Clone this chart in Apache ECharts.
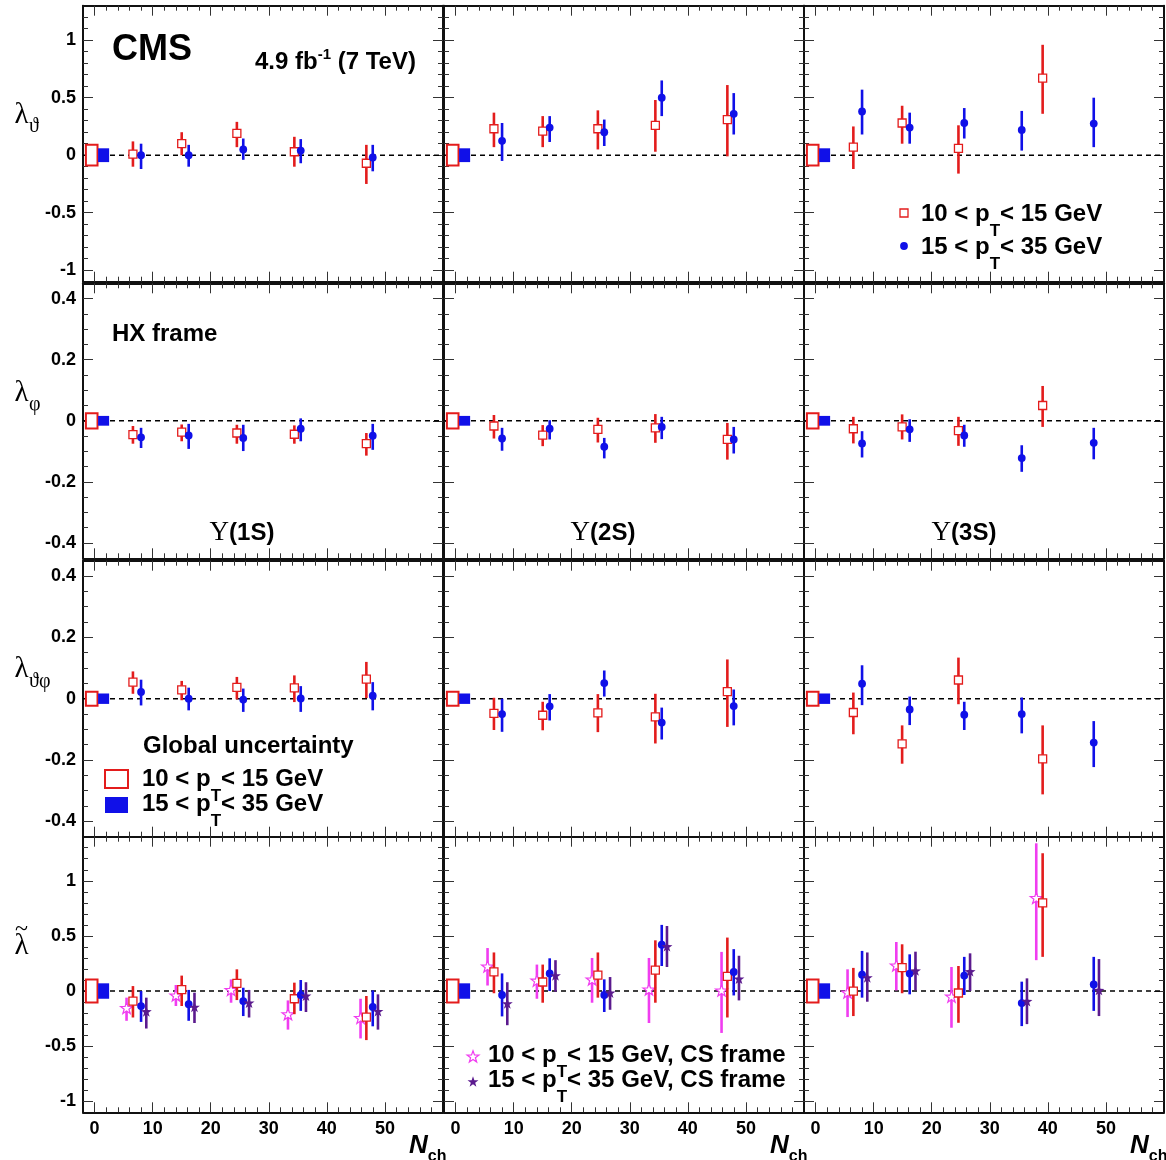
<!DOCTYPE html>
<html><head><meta charset="utf-8">
<script src="https://cdn.jsdelivr.net/npm/echarts@6/dist/echarts.min.js"></script>
<style>html,body{margin:0;padding:0;background:#fff}#c{width:1166px;height:1160px}</style>
</head><body><div id="c"></div>
<script>
// ---------------- DATA ----------------
// N_ch positions of the points (slightly offset per series, as in the figure)
const nchLow    = [6.6, 15.0, 24.5, 34.4, 46.8];   // 10<pT<15 GeV, HX
const nchHigh   = [8.0, 16.2, 25.6, 35.5, 47.9];   // 15<pT<35 GeV, HX
const nchLowCS  = [5.5, 14.0, 23.5, 33.3, 45.8];   // 10<pT<15 GeV, CS
const nchHighCS = [8.9, 17.2, 26.6, 36.4, 48.8];   // 15<pT<35 GeV, CS
const nchLow3S   = [6.5, 14.9, 24.6, 39.1];
const nchLowCS3S = [5.5, 13.9, 23.4, 38.0];

// tick labels
const xTicks = [0, 10, 20, 30, 40, 50];
const yTicksWide = [-1, -0.5, 0, 0.5, 1];
const yTicksNarrow = [-0.4, -0.2, 0, 0.2, 0.4];

// values: [central, low edge of error bar, high edge of error bar]
// lambda_theta
const lthLow1S  = [[0.01,-0.10,0.12],[0.10,0.00,0.20],[0.19,0.07,0.29],[0.03,-0.10,0.16],[-0.07,-0.25,0.09]];
const lthHigh1S = [[0.00,-0.12,0.10],[0.00,-0.10,0.09],[0.05,-0.04,0.145],[0.04,-0.07,0.14],[-0.02,-0.14,0.09]];
const lthLow2S  = [[0.23,0.07,0.37],[0.21,0.07,0.34],[0.23,0.05,0.39],[0.26,0.03,0.48],[0.31,-0.01,0.61]];
const lthHigh2S = [[0.125,-0.05,0.28],[0.24,0.115,0.34],[0.20,0.08,0.31],[0.50,0.34,0.65],[0.36,0.18,0.54]];
const lthLow3S  = [[0.07,-0.12,0.25],[0.28,0.10,0.43],[0.06,-0.16,0.26],[0.67,0.36,0.96]];
const lthHigh3S = [[0.38,0.18,0.57],[0.24,0.10,0.37],[0.28,0.145,0.41],[0.22,0.04,0.385],[0.275,0.07,0.50]];
// lambda_phi
const lphLow1S  = [[-0.045,-0.075,-0.017],[-0.037,-0.067,-0.012],[-0.040,-0.075,-0.013],[-0.044,-0.075,-0.015],[-0.075,-0.114,-0.040]];
const lphHigh1S = [[-0.054,-0.089,-0.023],[-0.048,-0.092,-0.010],[-0.056,-0.099,-0.013],[-0.026,-0.067,0.008],[-0.049,-0.095,-0.010]];
const lphLow2S  = [[-0.017,-0.058,0.019],[-0.047,-0.083,-0.014],[-0.028,-0.071,0.010],[-0.023,-0.072,0.022],[-0.061,-0.127,-0.007]];
const lphHigh2S = [[-0.058,-0.098,-0.023],[-0.026,-0.061,0.002],[-0.085,-0.123,-0.056],[-0.020,-0.060,0.013],[-0.061,-0.107,-0.020]];
const lphLow3S  = [[-0.026,-0.074,0.013],[-0.020,-0.061,0.021],[-0.032,-0.082,0.013],[0.050,-0.020,0.114]];
const lphHigh3S = [[-0.074,-0.120,-0.034],[-0.028,-0.069,0.005],[-0.048,-0.085,-0.013],[-0.122,-0.167,-0.080],[-0.072,-0.126,-0.023]];
// lambda_theta_phi
const ltpLow1S  = [[0.054,0.016,0.089],[0.029,-0.005,0.058],[0.037,-0.002,0.071],[0.035,-0.011,0.076],[0.064,0.002,0.120]];
const ltpHigh1S = [[0.022,-0.022,0.062],[0.000,-0.038,0.036],[-0.003,-0.043,0.033],[0.001,-0.043,0.041],[0.010,-0.038,0.054]];
const ltpLow2S  = [[-0.048,-0.102,0.003],[-0.054,-0.103,-0.010],[-0.046,-0.109,0.015],[-0.059,-0.146,0.016],[0.023,-0.092,0.128]];
const ltpHigh2S = [[-0.050,-0.108,0.000],[-0.025,-0.071,0.015],[0.051,0.007,0.092],[-0.078,-0.133,-0.029],[-0.024,-0.087,0.030]];
const ltpLow3S  = [[-0.045,-0.116,0.020],[-0.147,-0.212,-0.087],[0.061,-0.018,0.134],[-0.196,-0.312,-0.087]];
const ltpHigh3S = [[0.049,-0.021,0.109],[-0.035,-0.086,0.007],[-0.052,-0.102,-0.010],[-0.050,-0.113,0.004],[-0.143,-0.223,-0.073]];
// lambda tilde (HX and CS frames)
const ltiLow1S    = [[-0.091,-0.24,0.045],[0.012,-0.136,0.14],[0.07,-0.082,0.197],[-0.07,-0.21,0.076],[-0.236,-0.445,-0.045]];
const ltiHigh1S   = [[-0.136,-0.28,0.0],[-0.12,-0.27,0.01],[-0.091,-0.227,0.03],[-0.036,-0.18,0.1],[-0.145,-0.32,0.006]];
const ltiLowCS1S  = [[-0.158,-0.27,-0.06],[-0.045,-0.136,0.055],[0.006,-0.106,0.105],[-0.215,-0.35,-0.085],[-0.248,-0.43,-0.07]];
const ltiHighCS1S = [[-0.19,-0.34,-0.06],[-0.15,-0.29,-0.015],[-0.112,-0.24,0.01],[-0.048,-0.19,0.08],[-0.188,-0.35,-0.03]];
const ltiLow2S    = [[0.173,-0.02,0.35],[0.082,-0.106,0.24],[0.145,-0.06,0.35],[0.19,-0.106,0.46],[0.133,-0.24,0.485]];
const ltiHigh2S   = [[-0.036,-0.23,0.16],[0.16,0.0,0.297],[-0.036,-0.19,0.106],[0.42,0.227,0.6],[0.173,-0.04,0.38]];
const ltiLowCS2S  = [[0.218,0.05,0.39],[0.09,-0.07,0.24],[0.1,-0.106,0.30],[0.009,-0.29,0.30],[0.0,-0.38,0.355]];
const ltiHighCS2S = [[-0.118,-0.31,0.08],[0.136,-0.006,0.28],[-0.02,-0.17,0.127],[0.40,0.218,0.59],[0.106,-0.085,0.32]];
const ltiLow3S    = [[0.0,-0.227,0.21],[0.212,-0.02,0.424],[-0.018,-0.288,0.227],[0.80,0.31,1.25]];
const ltiHigh3S   = [[0.148,-0.06,0.364],[0.158,-0.03,0.333],[0.14,-0.036,0.31],[-0.109,-0.318,0.085],[0.06,-0.18,0.31]];
const ltiLowCS3S  = [[-0.018,-0.236,0.197],[0.227,0.006,0.445],[-0.055,-0.333,0.218],[0.84,0.28,1.34]];
const ltiHighCS3S = [[0.118,-0.097,0.35],[0.18,0.006,0.357],[0.173,0.0,0.342],[-0.097,-0.3,0.115],[0.003,-0.227,0.29]];

// global uncertainty (half height) per row
const globLow  = [0.09, 0.025, 0.023, 0.105];
const globHigh = [0.06, 0.016, 0.017, 0.07];

// ---------------- LAYOUT / STYLE ----------------
const FONT = '"Liberation Sans", Arial, sans-serif';
const SERIF = '"Liberation Serif", "Times New Roman", serif';
const COLS = [83, 444, 804], COLW = 360;
const ROWS = [{top:5.7,h:276},{top:283.3,h:275},{top:560.7,h:276},{top:836.7,h:275.6}];
const YR = [
  {min:-1.1, max:1.3, major:yTicksWide, step:0.1},
  {min:-0.45, max:0.45, major:yTicksNarrow, step:0.05},
  {min:-0.45, max:0.45, major:yTicksNarrow, step:0.05},
  {min:-1.1, max:1.4, major:yTicksWide, step:0.1}
];
const RED='#e31c1c', BLUE='#1010e8', MAG='#f03df0', PUR='#5b1a8e';
const STAR='M50,0 L61.8,33.8 L97.6,34.5 L69,56.2 L79.4,90.5 L50,70 L20.6,90.5 L31,56.2 L2.4,34.5 L38.2,33.8 Z';
function starPoints(cx, cy, size){
  const pts=[]; const ro=size/2, ri=ro*0.4;
  for(let i=0;i<10;i++){const a=-Math.PI/2+i*Math.PI/5; const rr=i%2?ri:ro; pts.push([cx+rr*Math.cos(a), cy+rr*Math.sin(a)]);}
  return pts;
}

function minorTicks(min, max, step, major){
  const out=[]; const n0=Math.ceil(min/step-1e-9), n1=Math.floor(max/step+1e-9);
  for(let i=n0;i<=n1;i++){const v=+(i*step).toFixed(4);
    if(v<=min+1e-9||v>=max-1e-9) continue;
    if(major.some(m=>Math.abs(m-v)<1e-6)) continue; out.push(v);}
  return out;
}
const xMinor = minorTicks(-2, 60, 2, xTicks);
const fmt = v => String(+(+v).toFixed(2));

function mkAxis(kind, gi, pos, min, max, ticks, len, showLine, labelVals){
  const a = {type:'value', gridIndex:gi, position:pos, min:min, max:max,
    axisLine:{show:showLine, onZero:false, lineStyle:{color:'#111', width:2}},
    axisTick:{show:true, inside:true, length:len, customValues:ticks, lineStyle:{color:'#333', width:1}},
    splitLine:{show:false}, minorTick:{show:false}, minorSplitLine:{show:false},
    axisLabel:{show:false}};
  if (labelVals) {
    a.axisLabel = {show:true, customValues:labelVals, formatter:fmt, fontFamily:FONT, fontWeight:'bold',
      fontSize:18, color:'#000', margin: kind==='x' ? 8 : 7};
  }
  return a;
}

const grids=[], xAxes=[], yAxes=[], series=[];
const spec = { low:{color:RED}, high:{color:BLUE}, lowCS:{color:MAG}, highCS:{color:PUR} };
function markerFor(kind, p){
  if (kind==='low') return {type:'rect', shape:{x:p[0]-4,y:p[1]-4,width:8,height:8}, style:{fill:'#fff',stroke:RED,lineWidth:1.3}};
  if (kind==='high') return {type:'circle', shape:{cx:p[0],cy:p[1],r:3.9}, style:{fill:BLUE}};
  if (kind==='lowCS') return {type:'polygon', shape:{points:starPoints(p[0],p[1],12.5)}, style:{fill:'#fff',stroke:MAG,lineWidth:1.2}};
  return {type:'polygon', shape:{points:starPoints(p[0],p[1],11.5)}, style:{fill:PUR}};
}

const panels = [
  [[['low',nchLow,lthLow1S],['high',nchHigh,lthHigh1S]],
   [['low',nchLow,lthLow2S],['high',nchHigh,lthHigh2S]],
   [['low',nchLow3S,lthLow3S],['high',nchHigh,lthHigh3S]]],
  [[['low',nchLow,lphLow1S],['high',nchHigh,lphHigh1S]],
   [['low',nchLow,lphLow2S],['high',nchHigh,lphHigh2S]],
   [['low',nchLow3S,lphLow3S],['high',nchHigh,lphHigh3S]]],
  [[['low',nchLow,ltpLow1S],['high',nchHigh,ltpHigh1S]],
   [['low',nchLow,ltpLow2S],['high',nchHigh,ltpHigh2S]],
   [['low',nchLow3S,ltpLow3S],['high',nchHigh,ltpHigh3S]]],
  [[['lowCS',nchLowCS,ltiLowCS1S],['low',nchLow,ltiLow1S],['high',nchHigh,ltiHigh1S],['highCS',nchHighCS,ltiHighCS1S]],
   [['lowCS',nchLowCS,ltiLowCS2S],['low',nchLow,ltiLow2S],['high',nchHigh,ltiHigh2S],['highCS',nchHighCS,ltiHighCS2S]],
   [['lowCS',nchLowCS3S,ltiLowCS3S],['low',nchLow3S,ltiLow3S],['high',nchHigh,ltiHigh3S],['highCS',nchHighCS,ltiHighCS3S]]]
];

for (let r=0;r<4;r++){
  const yr = YR[r]; const yMinor = minorTicks(yr.min, yr.max, yr.step, yr.major);
  for (let c=0;c<3;c++){
    const gi = r*3+c;
    grids.push({left:COLS[c], top:ROWS[r].top, width:COLW, height:ROWS[r].h, show:false});
    xAxes.push(mkAxis('x',gi,'bottom',-2,60,xTicks,10,true, r===3 ? xTicks : null));
    xAxes.push(mkAxis('x',gi,'bottom',-2,60,xMinor,5,false,null));
    xAxes.push(mkAxis('x',gi,'top',-2,60,xTicks,10,true,null));
    xAxes.push(mkAxis('x',gi,'top',-2,60,xMinor,5,false,null));
    yAxes.push(mkAxis('y',gi,'left',yr.min,yr.max,yr.major,10,true, c===0 ? yr.major : null));
    yAxes.push(mkAxis('y',gi,'left',yr.min,yr.max,yMinor,5,false,null));
    yAxes.push(mkAxis('y',gi,'right',yr.min,yr.max,yr.major,10,true,null));
    yAxes.push(mkAxis('y',gi,'right',yr.min,yr.max,yMinor,5,false,null));

    // zero line + global uncertainty boxes
    series.push({type:'custom', xAxisIndex:4*gi, yAxisIndex:4*gi, silent:true, z:2,
      data:[[0, globLow[r]],[1, globHigh[r]]],
      renderItem:function(params, api){
        const half = api.value(1);
        if (params.dataIndex===0){
          const a = api.coord([-2,0]), b = api.coord([60,0]);
          const p0 = api.coord([-1.5, half]), p1 = api.coord([0.5, -half]);
          return {type:'group', children:[
            {type:'line', shape:{x1:a[0],y1:a[1],x2:b[0],y2:b[1]}, style:{stroke:'#000',lineWidth:1.6,lineDash:[5,4]}},
            {type:'rect', shape:{x:p0[0],y:p0[1],width:p1[0]-p0[0],height:p1[1]-p0[1]}, style:{fill:'#fff',stroke:RED,lineWidth:2}}
          ]};
        }
        const p0 = api.coord([0.6, half]), p1 = api.coord([2.5, -half]);
        return {type:'rect', shape:{x:p0[0],y:p0[1],width:p1[0]-p0[0],height:p1[1]-p0[1]}, style:{fill:BLUE}};
      }});

    for (const [kind, xs, vals] of panels[r][c]){
      const data = vals.map((v,i)=>[xs[i], v[0], v[1], v[2]]);
      const col = spec[kind].color;
      series.push({type:'custom', xAxisIndex:4*gi, yAxisIndex:4*gi, silent:true, z:3,
        encode:{x:0, y:[1,2,3]}, data:data,
        renderItem:function(params, api){
          const x = api.value(0);
          const p = api.coord([x, api.value(1)]);
          const lo = api.coord([x, api.value(2)]), hi = api.coord([x, api.value(3)]);
          return {type:'group', children:[
            {type:'line', shape:{x1:p[0],y1:lo[1],x2:p[0],y2:hi[1]}, style:{stroke:col,lineWidth:2.6}},
            markerFor(kind, p)
          ]};
        }});
    }
  }
}

// ---------------- TEXT / LEGENDS ----------------
const B = (s, extra) => Object.assign({fontSize:s, fontWeight:'bold', fontFamily:FONT, fill:'#000'}, extra||{});
const subT = B(17, {padding:[34,0,0,0]});
function txt(x, y, text, rich, align){
  return {type:'text', x:x, y:y, silent:true, z:10,
    style:{text:text, rich:rich, textAlign:align||'left', textVerticalAlign:'middle'}};
}
const ptRich = {a:B(24), s:subT};
const graphics = [
  txt(112, 50, '{a|CMS}', {a:B(36)}),
  txt(255, 62, '{a|4.9 fb}{b|-1}{a| (7 TeV)}', {a:B(24), b:B(15,{padding:[0,0,14,0]})}),
  {type:'rect', shape:{x:900,y:209,width:8,height:8}, style:{fill:'#fff',stroke:RED,lineWidth:1.3}, z:10},
  txt(921, 214.5, '{a|10 < p}{s|T}{a|< 15 GeV}', ptRich),
  {type:'circle', shape:{cx:904,cy:246,r:3.9}, style:{fill:BLUE}, z:10},
  txt(921, 247, '{a|15 < p}{s|T}{a|< 35 GeV}', ptRich),
  txt(112, 334.5, '{a|HX frame}', {a:B(24)}),
  txt(242, 533, '{u|\u03A5}{a|(1S)}', {a:B(24), u:{fontSize:27, fontFamily:SERIF, fill:'#000'}}, 'center'),
  txt(603, 533, '{u|\u03A5}{a|(2S)}', {a:B(24), u:{fontSize:27, fontFamily:SERIF, fill:'#000'}}, 'center'),
  txt(964, 533, '{u|\u03A5}{a|(3S)}', {a:B(24), u:{fontSize:27, fontFamily:SERIF, fill:'#000'}}, 'center'),
  txt(143, 746.5, '{a|Global uncertainty}', {a:B(24)}),
  {type:'rect', shape:{x:105,y:770,width:23,height:18}, style:{fill:'#fff',stroke:RED,lineWidth:2}, z:10},
  txt(142, 779.5, '{a|10 < p}{s|T}{a|< 15 GeV}', ptRich),
  {type:'rect', shape:{x:105,y:797,width:23,height:16}, style:{fill:BLUE}, z:10},
  txt(142, 804.5, '{a|15 < p}{s|T}{a|< 35 GeV}', ptRich),
  {type:'polygon', shape:{points:starPoints(473,1057,12.5)}, style:{fill:'#fff',stroke:MAG,lineWidth:1.2}, z:10},
  txt(488, 1055, '{a|10 < p}{s|T}{a|< 15 GeV, CS frame}', ptRich),
  {type:'polygon', shape:{points:starPoints(473,1082,11.5)}, style:{fill:PUR}, z:10},
  txt(488, 1080, '{a|15 < p}{s|T}{a|< 35 GeV, CS frame}', ptRich),
];
// axis titles
const LAM = {l:{fontSize:29, fontFamily:SERIF, fill:'#000'}};
const SUB = {s:{fontSize:20, fontFamily:SERIF, fill:'#000'}};
graphics.push(txt(21.5, 115, '{l|\u03BB}', LAM, 'center'), txt(29, 127, '{s|\u03D1}', SUB));
graphics.push(txt(21.5, 393, '{l|\u03BB}', LAM, 'center'), txt(29, 405, '{s|\u03C6}', SUB));
graphics.push(txt(21.5, 669, '{l|\u03BB}', LAM, 'center'), txt(29, 682, '{s|\u03D1\u03C6}', SUB));
graphics.push(txt(21.5, 946, '{l|\u03BB}', LAM, 'center'), txt(21.5, 930, '{t|~}', {t:{fontSize:24, fontFamily:SERIF, fill:'#000'}}, 'center'));
for (let c=0;c<3;c++){
  graphics.push(txt(COLS[c]+326, 1146, '{n|N}{c|ch}', {n:B(26,{fontStyle:'italic'}), c:B(16,{padding:[22,0,0,0]})}));
}

const chart = echarts.init(document.getElementById('c'), null, {renderer:'canvas'});
chart.setOption({
  animation:false, backgroundColor:'#fff',
  grid:grids, xAxis:xAxes, yAxis:yAxes, series:series, graphic:graphics
});
</script></body></html>
